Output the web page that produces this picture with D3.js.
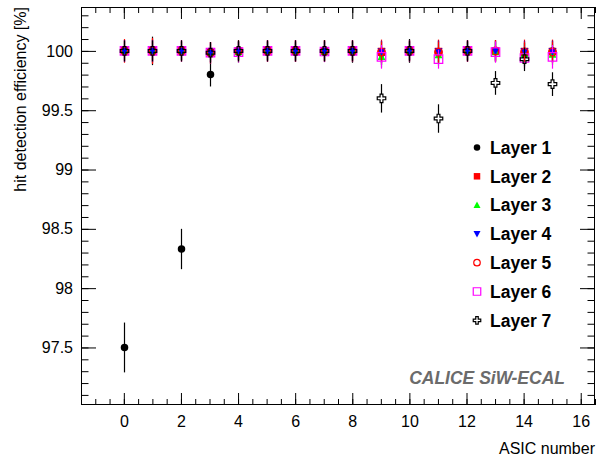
<!DOCTYPE html>
<html><head><meta charset="utf-8">
<script src="https://cdn.jsdelivr.net/npm/d3@7"></script>
<style>
html,body{margin:0;padding:0;background:#fff;}
svg{display:block;font-family:"Liberation Sans",Arial,Helvetica,sans-serif;}
</style></head>
<body><svg id="c" width="606" height="463"></svg>
<script>
// ---- data ----
const asics = [0,1,2,3,4,5,6,7,8,9,10,11,12,13,14,15];
const layerNames = ["Layer 1","Layer 2","Layer 3","Layer 4","Layer 5","Layer 6","Layer 7"];
const layer1 = [97.50,100.00,98.33,99.80,100.00,100.00,99.99,100.00,99.99,99.98,100.00,99.99,100.00,100.00,99.97,100.00];
const layer1Err = [0.21,0.12,0.17,0.10,0.08,0.08,0.08,0.09,0.09,0.10,0.10,0.10,0.08,0.09,0.10,0.09];
const layer2 = [100.00,100.00,100.00,99.985,100.00,100.00,100.00,100.00,100.00,99.995,100.00,99.995,100.00,100.00,99.995,99.995];
const layer2Err = [0.10,0.11,0.08,0.09,0.08,0.09,0.09,0.09,0.09,0.10,0.08,0.10,0.09,0.09,0.10,0.10];
const layer3 = [100.00,100.00,100.00,99.985,99.99,100.00,100.00,99.995,100.00,99.95,100.00,99.965,100.00,99.99,99.975,99.97];
const layer3Err = [0.08,0.08,0.08,0.08,0.09,0.08,0.08,0.08,0.08,0.09,0.08,0.09,0.08,0.08,0.09,0.09];
const layer4 = [100.00,100.00,100.00,99.985,100.00,100.00,100.00,100.00,100.00,99.995,100.00,99.995,100.00,100.00,99.995,99.995];
const layer4Err = [0.09,0.09,0.08,0.08,0.08,0.08,0.08,0.08,0.08,0.09,0.08,0.09,0.08,0.08,0.09,0.09];
const layer5 = [100.00,100.00,100.00,99.985,100.00,100.00,100.00,100.00,100.00,99.99,100.00,99.99,100.00,100.00,99.99,99.99];
const layer5Err = [0.09,0.10,0.09,0.09,0.09,0.09,0.09,0.09,0.09,0.09,0.09,0.09,0.09,0.09,0.09,0.09];
const layer6 = [100.00,100.00,100.00,99.985,99.99,100.00,100.00,99.995,100.00,99.95,100.00,99.93,100.00,99.99,99.94,99.95];
const layer6Err = [0.09,0.09,0.09,0.09,0.09,0.09,0.09,0.09,0.09,0.10,0.09,0.08,0.09,0.09,0.09,0.10];
const layer7 = [100.00,100.00,100.00,99.985,100.00,100.00,100.00,100.00,100.00,99.60,100.00,99.43,100.00,99.73,99.93,99.72];
const layer7Err = [0.09,0.09,0.09,0.09,0.09,0.09,0.09,0.09,0.09,0.12,0.09,0.12,0.09,0.10,0.10,0.10];
const xMajorTicks = [0,2,4,6,8,10,12,14,16];
const yMajorTicks = [97.5,98,98.5,99,99.5,100];
const yTickLabels = ["97.5","98","98.5","99","99.5","100"];

const layers = [
  {name:layerNames[0], v:layer1, e:layer1Err, color:"#000000", shape:"circle", fill:true},
  {name:layerNames[1], v:layer2, e:layer2Err, color:"#ff0000", shape:"square", fill:true},
  {name:layerNames[2], v:layer3, e:layer3Err, color:"#00ff00", shape:"triUp", fill:true},
  {name:layerNames[3], v:layer4, e:layer4Err, color:"#0000ff", shape:"triDown", fill:true},
  {name:layerNames[4], v:layer5, e:layer5Err, color:"#ff0000", shape:"circle", fill:false},
  {name:layerNames[5], v:layer6, e:layer6Err, color:"#ff00ff", shape:"square", fill:false},
  {name:layerNames[6], v:layer7, e:layer7Err, color:"#000000", shape:"cross", fill:false}
];

// ---- layout ----
const L=81, R=595, T=7, B=405;
const svg = d3.select("#c");
const x = d3.scaleLinear().domain([-1.5,16.5]).range([L,R]);
const y = d3.scaleLinear().domain([97.015,100.37]).range([B,T]);

function markerPath(shape, s){
  const h=s/2;
  if(shape==="circle"){ return `M${-h},0A${h},${h} 0 1,0 ${h},0A${h},${h} 0 1,0 ${-h},0Z`; }
  if(shape==="square"){ return `M${-h},${-h}H${h}V${h}H${-h}Z`; }
  if(shape==="triUp"){ return `M0,${-h}L${h},${h*0.8}L${-h},${h*0.8}Z`; }
  if(shape==="triDown"){ return `M0,${h}L${h},${-h*0.8}L${-h},${-h*0.8}Z`; }
  if(shape==="cross"){ const b=s/6; return `M${-b},${-h}H${b}V${-b}H${h}V${b}H${b}V${h}H${-b}V${b}H${-h}V${-b}H${-b}Z`; }
}
const sizes = {circle:7.5, square:7.5, triUp:8, triDown:8};
const sizesOpen = {circle:7.5, square:8.5, cross:8.5};

// ---- axes ----
const fontSize = 16;
const xMinor = d3.range(-1.5, 16.51, 0.5);
const yMinor = d3.range(97.1, 100.35, 0.1).map(v=>+v.toFixed(1));

function styleAxis(g){ g.select(".domain").remove(); g.selectAll("line").attr("stroke","#000"); g.selectAll("text").attr("font-size",fontSize).attr("fill","#000").attr("font-family","'Liberation Sans',Arial,sans-serif"); }

svg.append("g").attr("transform",`translate(0,${B})`).call(d3.axisBottom(x).tickValues(xMinor).tickSize(-6).tickFormat("")).call(styleAxis);
svg.append("g").attr("transform",`translate(0,${B})`).call(d3.axisBottom(x).tickValues(xMajorTicks).tickSize(-12).tickPadding(6).tickFormat(d3.format("d"))).call(styleAxis)
  .selectAll("text").attr("dy","1em");
svg.append("g").attr("transform",`translate(0,${T})`).call(d3.axisTop(x).tickValues(xMinor).tickSize(-6).tickFormat("")).call(styleAxis);
svg.append("g").attr("transform",`translate(0,${T})`).call(d3.axisTop(x).tickValues(xMajorTicks).tickSize(-12).tickFormat("")).call(styleAxis);
svg.append("g").attr("transform",`translate(${L},0)`).call(d3.axisLeft(y).tickValues(yMinor).tickSize(-7.5).tickFormat("")).call(styleAxis);
svg.append("g").attr("transform",`translate(${L},0)`).call(d3.axisLeft(y).tickValues(yMajorTicks).tickSize(-15).tickPadding(8).tickFormat((d,i)=>yTickLabels[i])).call(styleAxis);
svg.append("g").attr("transform",`translate(${R},0)`).call(d3.axisRight(y).tickValues(yMinor).tickSize(-7.5).tickFormat("")).call(styleAxis);
svg.append("g").attr("transform",`translate(${R},0)`).call(d3.axisRight(y).tickValues(yMajorTicks).tickSize(-15).tickFormat("")).call(styleAxis);

svg.append("rect").attr("x",L+0.5).attr("y",T+0.5).attr("width",R-L-1).attr("height",B-T-1)
  .attr("fill","none").attr("stroke","#000").attr("stroke-width",1);

svg.append("text").attr("transform",`translate(26,${T}) rotate(-90)`).attr("text-anchor","end")
  .attr("font-size",16).text("hit detection efficiency [%]");
svg.append("text").attr("x",R).attr("y",454).attr("text-anchor","end").attr("font-size",16).text("ASIC number");

svg.append("text").attr("x",565).attr("y",383.5).attr("text-anchor","end").attr("font-size",17.5)
  .attr("font-weight","bold").attr("font-style","italic").attr("fill","#6b6b6b").text("CALICE SiW-ECAL");

// ---- data marks ----
const plot = svg.append("g");
layers.forEach(ly=>{
  const g = plot.append("g");
  const pts = asics.map((a,i)=>({a, v:ly.v[i], e:ly.e[i]}));
  const s = ly.fill ? sizes[ly.shape] : sizesOpen[ly.shape];
  const gap = ly.fill ? 0 : s/2;
  const px = d=>Math.round(x(d.a))+0.5;
  // upper and lower error bar segments, leaving the marker area free
  g.selectAll("line.up").data(pts).enter().append("line")
    .attr("x1",px).attr("x2",px)
    .attr("y1",d=>y(d.v+d.e)).attr("y2",d=>Math.max(y(d.v+d.e), y(d.v)-gap))
    .attr("stroke",ly.color).attr("stroke-width",1.2);
  g.selectAll("line.dn").data(pts).enter().append("line")
    .attr("x1",px).attr("x2",px)
    .attr("y1",d=>Math.min(y(d.v-d.e), y(d.v)+gap)).attr("y2",d=>y(d.v-d.e))
    .attr("stroke",ly.color).attr("stroke-width",1.2);
  g.selectAll("path.m").data(pts).enter().append("path")
    .attr("transform",d=>`translate(${px(d)},${y(d.v)})`)
    .attr("d",markerPath(ly.shape,s))
    .attr("fill",ly.fill?ly.color:"none")
    .attr("stroke",ly.color).attr("stroke-width",ly.fill?0:1.2);
});

// ---- legend ----
const legY0 = 147.5, legDy = 28.8;
const leg = svg.append("g");
layers.forEach((ly,i)=>{
  const cy = legY0 + i*legDy;
  const s = ly.fill ? sizes[ly.shape]-1 : sizesOpen[ly.shape]-1;
  leg.append("path").attr("transform",`translate(477,${cy})`).attr("d",markerPath(ly.shape,s))
    .attr("fill",ly.fill?ly.color:"none")
    .attr("stroke",ly.color).attr("stroke-width",ly.fill?0:1.2);
  leg.append("text").attr("x",490).attr("y",cy+6.2).attr("font-size",17.5).attr("font-weight","bold").text(ly.name);
});
</script></body></html>
